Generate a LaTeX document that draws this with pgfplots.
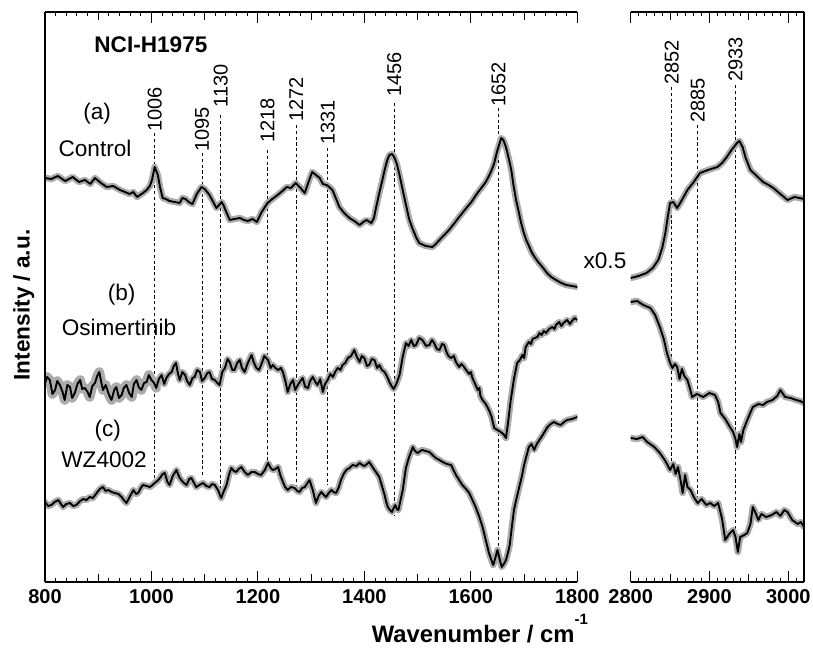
\documentclass[border=0pt]{standalone}
\usepackage{pgfplots}
\pgfplotsset{compat=1.18}
\usepackage{pgfplotstable}
\usepackage{fontspec}
\setmainfont{Liberation Sans}

\pgfplotstableread{
x y
800 404
812 403
824 406
838 401
852 405
864 400
875 402
885 398
894 404
905 399
916 395
928 396
941 392
950 390
959 388
966 390
973 385
984 389
991 392
997 396
1001 402
1006 415
1012 407
1016 395
1021 384
1027 383
1034 381
1044 380
1053 379
1058 384
1064 383
1070 380
1077 378
1085 388
1094 395
1100 393
1109 387
1116 380
1122 374
1127 377
1132 380
1136 376
1139 372
1147 362
1156 363
1166 364
1174 362
1181 361
1190 363
1198 360
1207 370
1212 374
1218 379
1227 383
1237 387
1246 391
1254 395
1262 394
1271 399
1280 394
1288 389
1295 400
1302 410
1309 407
1316 404
1322 398
1329 397
1334 395
1340 392
1347 383
1353 375
1362 369
1372 364
1381 361
1391 357
1398 360
1404 362
1413 359
1418 364
1421 372
1428 389
1433 400
1438 412
1443 422
1447 427
1452 428
1456 425
1461 418
1466 407
1472 392
1479 375
1484 363
1490 354
1497 345
1503 339
1515 336
1528 335
1534 338
1541 342
1550 347
1559 352
1568 358
1578 365
1590 373
1601 380
1611 388
1621 395
1628 400
1634 406
1640 413
1644 419
1649 430
1653 437
1657 444
1661 442
1666 435
1671 424
1676 412
1680 397
1685 382
1690 370
1694 360
1699 350
1704 342
1710 335
1715 329
1721 324
1728 319
1736 314
1743 309
1751 305
1760 302
1770 299
1779 297
1790 296
1800 295
}\ctrlL

\pgfplotstableread{
x y
800 199
804 205
809 202
814 188
819 192
823 201
828 197
833 190
837 182
842 197
847 195
851 184
856 189
861 198
866 202
870 193
875 194
880 190
884 185
889 196
894 199
898 206
902 210
906 199
909 192
914 197
919 189
922 185
925 182
930 192
934 195
939 184
944 187
948 194
953 197
958 189
963 185
967 198
972 202
976 195
981 192
986 199
991 200
995 207
1000 202
1005 199
1009 194
1014 203
1019 207
1024 198
1028 204
1033 208
1038 210
1042 216
1046 219
1050 208
1053 202
1058 210
1063 207
1067 201
1072 197
1077 204
1081 205
1086 212
1091 210
1095 201
1100 204
1105 209
1109 210
1114 203
1119 202
1124 199
1128 197
1133 210
1138 214
1143 223
1147 220
1152 212
1156 212
1161 219
1166 222
1170 214
1175 210
1181 219
1188 227
1192 220
1197 214
1202 212
1206 217
1212 226
1219 222
1224 214
1228 217
1233 214
1238 212
1243 214
1247 210
1252 200
1256 190
1261 198
1266 202
1270 192
1275 197
1280 201
1284 204
1289 195
1294 194
1298 201
1303 205
1308 200
1312 197
1317 203
1322 190
1326 198
1331 202
1336 208
1341 205
1345 210
1350 214
1355 212
1359 217
1364 219
1369 224
1375 226
1381 232
1386 225
1391 220
1395 226
1400 224
1405 216
1409 217
1414 223
1419 222
1424 214
1428 217
1433 212
1438 210
1443 205
1447 200
1451 196
1455 193
1460 198
1466 207
1472 225
1478 239
1483 236
1488 242
1493 236
1497 237
1503 244
1509 242
1516 236
1522 237
1527 242
1531 239
1536 233
1541 232
1546 238
1550 237
1555 229
1558 226
1563 224
1568 226
1572 220
1578 215
1582 218
1586 216
1591 212
1597 208
1600 210
1603 204
1608 198
1613 192
1616 194
1618 186
1622 182
1628 178
1634 172
1637 168
1639 165
1644 154
1650 152
1656 150
1661 148
1666 144
1670 160
1675 182
1681 203
1687 219
1692 222
1697 227
1700 224
1703 235
1709 240
1713 238
1716 243
1720 244
1725 245
1729 249
1733 247
1737 251
1741 249
1747 253
1753 255
1757 253
1760 257
1766 260
1770 256
1774 259
1781 262
1786 258
1790 261
1795 264
1800 262
}\osimL

\pgfplotstableread{
x y
800 80
806 76
812 77
818 80
825 82
830 78
834 75
840 78
847 79
853 76
859 77
866 81
872 83
878 82
884 85
890 84
897 89
903 93
909 95
914 91
919 92
925 90
931 89
938 88
944 85
948 82
953 79
960 86
966 92
971 88
975 89
980 94
984 97
991 96
997 95
1002 97
1006 99
1011 101
1016 104
1021 108
1025 109
1030 100
1034 97
1040 106
1047 112
1052 105
1056 102
1061 99
1066 97
1071 103
1075 104
1080 99
1084 95
1090 97
1097 99
1103 96
1109 95
1114 98
1119 97
1125 92
1131 84
1136 91
1141 97
1146 108
1150 114
1155 111
1159 110
1164 113
1169 115
1175 110
1181 107
1188 110
1194 110
1200 108
1206 107
1213 112
1219 119
1224 114
1228 112
1233 113
1238 115
1242 107
1247 100
1251 95
1256 92
1262 95
1269 94
1274 91
1278 90
1283 94
1288 95
1293 99
1297 102
1303 92
1309 79
1314 86
1319 90
1324 87
1328 85
1333 89
1338 92
1342 90
1347 89
1352 95
1356 102
1361 108
1366 112
1372 114
1378 117
1385 116
1391 119
1396 117
1400 116
1405 118
1409 120
1414 116
1419 112
1423 109
1428 105
1433 96
1438 87
1441 80
1444 75
1448 72
1452 70
1455 74
1458 77
1461 73
1464 72
1468 82
1472 92
1475 103
1478 114
1484 125
1491 135
1495 131
1500 129
1505 131
1509 132
1515 131
1522 130
1528 127
1534 124
1541 122
1547 120
1555 118
1563 117
1572 107
1578 102
1584 97
1591 93
1597 89
1603 82
1609 75
1616 65
1622 55
1628 42
1634 29
1638 23
1642 17
1646 24
1650 32
1654 23
1658 15
1662 18
1666 22
1670 30
1673 37
1677 55
1681 72
1686 84
1691 95
1696 106
1700 117
1705 127
1709 135
1714 138
1719 132
1722 136
1725 139
1735 147
1744 155
1750 158
1756 160
1763 158
1769 157
1775 160
1781 162
1790 163
1800 165
}\wzL

\pgfplotstableread{
x y
2800 304
2810 306
2820 309
2828 314
2835 322
2840 334
2844 349
2847 365
2850 379
2854 380
2859 374
2865 382
2872 392
2880 400
2888 409
2898 412
2910 415
2916 419
2922 425
2928 432
2935 439
2938 441
2942 435
2946 424
2952 412
2960 406
2968 400
2975 397
2981 394
2990 388
2999 382
3008 385
3020 383
}\ctrlR

\pgfplotstableread{
x y
2800 280
2808 281
2816 277
2825 274
2831 267
2837 255
2842 243
2846 229
2850 219
2853 214
2856 218
2859 215
2862 203
2865 213
2868 206
2872 202
2875 194
2878 185
2884 188
2892 185
2900 189
2907 187
2911 180
2914 169
2920 163
2926 155
2930 150
2933 143
2935 135
2938 148
2940 140
2943 152
2948 162
2955 175
2962 178
2968 177
2973 180
2980 182
2986 186
2990 192
2996 185
3003 184
3010 182
3015 181
3020 179
}\osimR

\pgfplotstableread{
x y
2800 144
2808 143
2815 145
2821 140
2830 135
2837 129
2844 121
2850 112
2854 118
2857 108
2860 115
2863 103
2866 89
2869 107
2872 95
2876 92
2880 85
2885 79
2890 83
2896 77
2901 79
2906 76
2911 79
2916 63
2920 42
2925 48
2930 52
2933 45
2936 30
2939 45
2944 47
2948 49
2952 58
2955 75
2958 70
2962 62
2966 68
2972 65
2979 67
2985 70
2990 66
2995 72
2999 70
3005 62
3012 58
3016 60
3020 55
}\wzR

\newcommand{\pklab}{\fontsize{10}{12}\selectfont}
\newcommand{\txlab}{\fontsize{11.3}{13}\selectfont}

\pgfplotsset{
  geomL/.style={scale only axis, height=285pt, ymin=0, ymax=570,
    at={(22.5pt,33pt)}, anchor=south west, width=266.15pt, xmin=800, xmax=1800},
  geomR/.style={scale only axis, height=285pt, ymin=0, ymax=570,
    at={(315.35pt,33pt)}, anchor=south west, width=86.65pt, xmin=2800, xmax=3020},
  data/.style={hide axis, clip mode=individual},
  frame/.style={
    clip=false,
    separate axis lines, y axis line style={draw=none},
    ytick=\empty, tick align=inside, xtick pos=both,
    xticklabel style={font=\bfseries\fontsize{10}{12}\selectfont},
    /pgf/number format/assume math mode=true,
    /pgf/number format/1000 sep={},
    major tick length=5.5pt, minor tick length=2.2pt,
    x axis line style={line width=0.6pt},
    every tick/.style={black, line width=0.5pt},
    minor x tick num=9, extra x tick labels={},
    extra x tick style={major tick length=4pt},
  },
  band/.style={color=black!33, line width=3.2pt, line join=round, line cap=round},
  curve/.style={black, line width=0.95pt, line join=round},
  pk/.style={black, line width=0.5pt, dash pattern=on 1.6pt off 1.3pt},
}
\tikzset{tk/.style={black, line width=0.5pt}}

\begin{document}
\begin{tikzpicture}
% ---------- left panel: data ----------
\begin{axis}[geomL, data]
  \addplot[pk] coordinates {(1006,449) (1006,100)};
  \addplot[pk] coordinates {(1095,429) (1095,105)};
  \addplot[pk] coordinates {(1130,467) (1130,85)};
  \addplot[pk] coordinates {(1218,432) (1218,119)};
  \addplot[pk] coordinates {(1272,457) (1272,92)};
  \addplot[pk] coordinates {(1331,434) (1331,97)};
  \addplot[pk] coordinates {(1456,479) (1456,67)};
  \addplot[pk] coordinates {(1652,474) (1652,32)};
  \addplot[band] table {\ctrlL};
  \addplot[band, line width=4.8pt, restrict x to domain=800:1012] table {\osimL};
  \addplot[band] table {\osimL};
  \addplot[band] table {\wzL};
  \addplot[curve] table {\ctrlL};
  \addplot[curve] table {\osimL};
  \addplot[curve] table {\wzL};
  \foreach \p/\v in {1006/450,1095/430,1130/474,1218/439,1272/460,1331/437,1456/485,1652/475}{
    \edef\tmp{\noexpand\node[rotate=90, anchor=west, inner sep=0pt, font=\noexpand\pklab] at (axis cs:\p,\v) {\p};}
    \tmp
  }
  \node[font=\bfseries\txlab] at (axis cs:999,537) {NCI-H1975};
  \node[font=\txlab] at (axis cs:898,468) {(a)};
  \node[font=\txlab] at (axis cs:894,434) {Control};
  \node[font=\txlab] at (axis cs:944,287) {(b)};
  \node[font=\txlab] at (axis cs:939,255) {Osimertinib};
  \node[font=\txlab] at (axis cs:918,151) {(c)};
  \node[font=\txlab] at (axis cs:911,122) {WZ4002};
  \node[font=\txlab] at (axis cs:1852,321) {x0.5};
  \node[font=\bfseries\txlab, rotate=90] at (axis cs:760,277) {Intensity / a.u.};
  \node[font=\bfseries\fontsize{11.9}{14}\selectfont, anchor=base, inner sep=0pt] at (axis cs:1617,-60) {Wavenumber / cm\raisebox{0.72em}{\fontsize{7.5}{8}\selectfont -1}};
\end{axis}
% ---------- left panel: frame ----------
\begin{axis}[geomL, frame, xtick={800,1000,...,1800},
  extra x ticks={900,1100,1300,1500,1700}]
  \draw[line width=0.6pt] (rel axis cs:0,0) -- (rel axis cs:0,1);
  \draw[line width=0.6pt] (rel axis cs:0,1) -- (rel axis cs:1,1);
  \draw[line width=0.6pt] (rel axis cs:0,0) -- (rel axis cs:1,0);
  \pgfplotsinvokeforeach{820,840,...,1780}{
    \draw[tk] (axis cs:#1,0) -- (axis cs:#1,4.4);
    \draw[tk] (axis cs:#1,570) -- (axis cs:#1,565.6);
  }
  \pgfplotsinvokeforeach{900,1100,...,1700}{
    \draw[tk] (axis cs:#1,0) -- (axis cs:#1,8);
    \draw[tk] (axis cs:#1,570) -- (axis cs:#1,562);
  }
  \pgfplotsinvokeforeach{1000,1200,...,1800}{
    \draw[tk] (axis cs:#1,0) -- (axis cs:#1,11);
    \draw[tk] (axis cs:#1,570) -- (axis cs:#1,559);
  }
\end{axis}
% ---------- right panel: data ----------
\begin{axis}[geomR, data]
  \addplot[pk] coordinates {(2852,495) (2852,115)};
  \addplot[pk] coordinates {(2885,457) (2885,79)};
  \addplot[pk] coordinates {(2933,497) (2933,32)};
  \addplot[band] table {\ctrlR};
  \addplot[band] table {\osimR};
  \addplot[band] table {\wzR};
  \addplot[curve] table {\ctrlR};
  \addplot[curve] table {\osimR};
  \addplot[curve] table {\wzR};
  \foreach \p/\v in {2852/497,2885/459,2933/500}{
    \edef\tmp{\noexpand\node[rotate=90, anchor=west, inner sep=0pt, font=\noexpand\pklab] at (axis cs:\p,\v) {\p};}
    \tmp
  }
\end{axis}
% ---------- right panel: frame ----------
\begin{axis}[geomR, frame, xtick={2800,2900,3000}, extra x ticks={2850,2950}]
  \draw[line width=0.6pt] (rel axis cs:1,0) -- (rel axis cs:1,1);
  \draw[line width=0.6pt] (rel axis cs:0,1) -- (rel axis cs:1,1);
  \draw[line width=0.6pt] (rel axis cs:0,0) -- (rel axis cs:1,0);
  \pgfplotsinvokeforeach{2810,2820,...,3010}{
    \draw[tk] (axis cs:#1,0) -- (axis cs:#1,4.4);
    \draw[tk] (axis cs:#1,570) -- (axis cs:#1,565.6);
  }
  \pgfplotsinvokeforeach{2850,2950}{
    \draw[tk] (axis cs:#1,0) -- (axis cs:#1,8);
    \draw[tk] (axis cs:#1,570) -- (axis cs:#1,562);
  }
  \pgfplotsinvokeforeach{2800,2900,3000}{
    \draw[tk] (axis cs:#1,0) -- (axis cs:#1,11);
    \draw[tk] (axis cs:#1,570) -- (axis cs:#1,559);
  }
\end{axis}
\pgfresetboundingbox
\path[use as bounding box] (0,0) rectangle (406.5pt,324pt);
\end{tikzpicture}
\end{document}
